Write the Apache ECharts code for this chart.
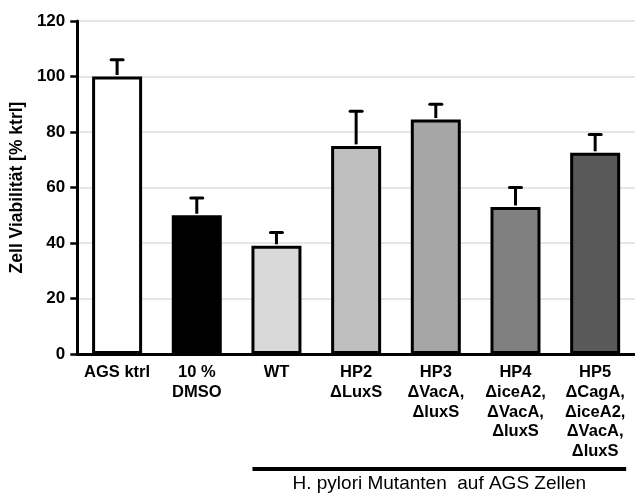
<!DOCTYPE html>
<html>
<head>
<meta charset="utf-8">
<script src="https://cdn.jsdelivr.net/npm/echarts@6/dist/echarts.min.js"></script>
<style>
html,body{margin:0;padding:0;background:#fff;}
#chart{width:635px;height:495px;}
</style>
</head>
<body>
<div id="chart"></div>
<script>
const categories = ['AGS ktrl', '10 %\nDMSO', 'WT', 'HP2\nΔLuxS', 'HP3\nΔVacA,\nΔluxS', 'HP4\nΔiceA2,\nΔVacA,\nΔluxS', 'HP5\nΔCagA,\nΔiceA2,\nΔVacA,\nΔluxS'];
const values = [100, 50, 39, 75, 84.5, 53, 72.5];
const errors = [6, 6.2, 4.8, 12.5, 5.5, 7, 6.6];
const barColors = ['#ffffff', '#000000', '#d9d9d9', '#bfbfbf', '#a6a6a6', '#808080', '#595959'];
const yAxisName = 'Zell Viabilität [% ktrl]';
const groupLabel = 'H. pylori Mutanten  auf AGS Zellen';
const groupFrom = 'WT';
const groupTo = 'HP5\nΔCagA,\nΔiceA2,\nΔVacA,\nΔluxS';

const chart = echarts.init(document.getElementById('chart'), null, {renderer: 'canvas'});
const FONT = 'Liberation Sans, Arial, sans-serif';

chart.setOption({
  animation: false,
  backgroundColor: '#ffffff',
  grid: {left: 75, top: 21, width: 565, height: 333, containLabel: false},
  xAxis: {
    type: 'category',
    data: categories,
    axisLine: {lineStyle: {color: '#000', width: 3}},
    axisTick: {alignWithLabel: true, length: 4, lineStyle: {color: '#000', width: 2}},
    axisLabel: {interval: 0, margin: 9, color: '#000', fontFamily: FONT, fontWeight: 'bold', fontSize: 16.5, lineHeight: 19.6},
    splitLine: {show: false}
  },
  yAxis: {
    type: 'value',
    min: 0, max: 120, interval: 20,
    name: yAxisName,
    nameLocation: 'middle',
    nameGap: 51,
    nameTextStyle: {color: '#000', fontFamily: FONT, fontWeight: 'bold', fontSize: 17.5},
    axisLine: {show: true, lineStyle: {color: '#000', width: 3}},
    axisTick: {show: true, length: 7, lineStyle: {color: '#000', width: 2.5}},
    axisLabel: {margin: 12, color: '#000', fontFamily: FONT, fontWeight: 'bold', fontSize: 17},
    splitLine: {show: true, lineStyle: {color: '#e6e6e6', width: 2}}
  },
  series: [
    {
      type: 'bar',
      barWidth: 50,
      data: values.map((v, i) => ({value: v, itemStyle: {color: barColors[i]}})),
      itemStyle: {borderColor: '#000', borderWidth: 3},
      z: 2
    },
    {
      type: 'custom',
      z: 3,
      data: values.map((v, i) => [i, v, errors[i]]),
      renderItem: function (params, api) {
        const i = api.value(0), v = api.value(1), e = api.value(2);
        const base = api.coord([i, v]);
        const top = api.coord([i, v + e]);
        const hw = 6;
        return {
          type: 'group',
          children: [
            {type: 'line', shape: {x1: base[0], y1: base[1] - 1.5, x2: top[0], y2: top[1]}, style: {stroke: '#000', lineWidth: 3}},
            {type: 'line', shape: {x1: top[0] - hw, y1: top[1], x2: top[0] + hw, y2: top[1]}, style: {stroke: '#000', lineWidth: 3, lineCap: 'round'}}
          ]
        };
      }
    }
  ]
});

const xa = chart.convertToPixel({xAxisIndex: 0}, groupFrom);
const xb = chart.convertToPixel({xAxisIndex: 0}, groupTo);
const lx1 = xa - 24, lx2 = xb + 31;
chart.setOption({
  graphic: [
    {type: 'line', shape: {x1: lx1, y1: 469, x2: lx2, y2: 469}, style: {stroke: '#000', lineWidth: 4}},
    {type: 'text', x: (lx1 + lx2) / 2, y: 484, style: {text: groupLabel, fill: '#000', font: 'normal 19px ' + FONT, align: 'center', verticalAlign: 'middle'}}
  ]
});
</script>
</body>
</html>
